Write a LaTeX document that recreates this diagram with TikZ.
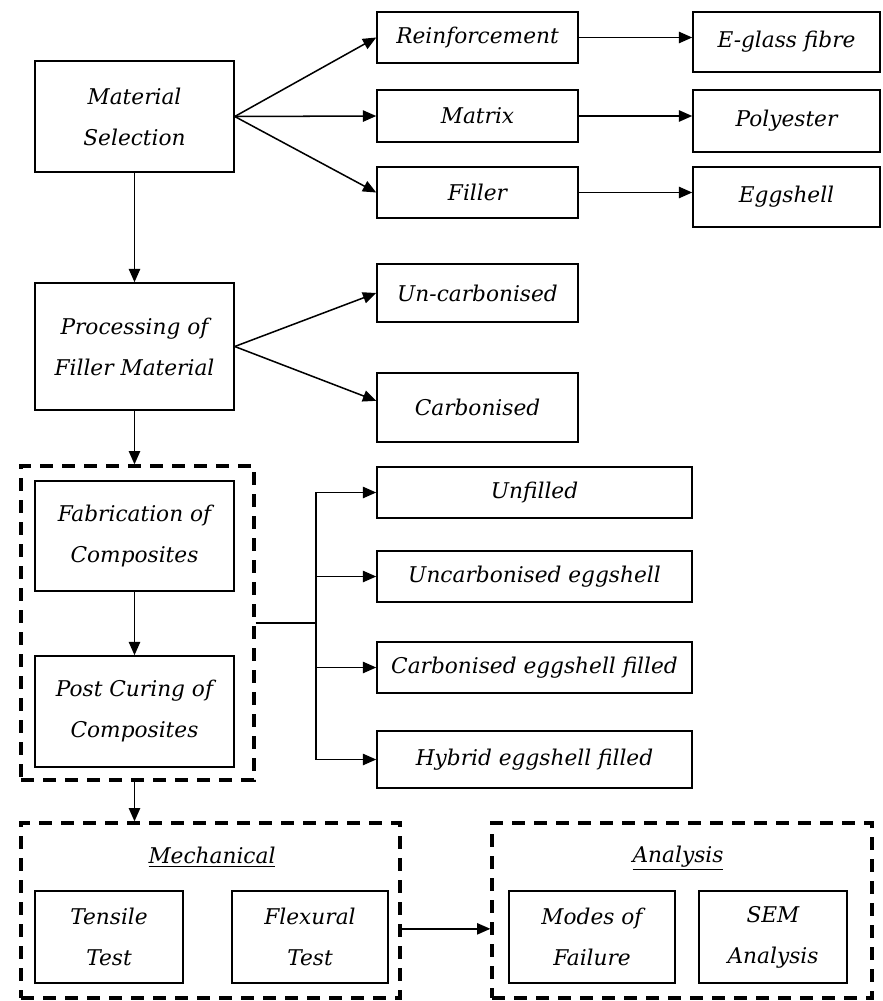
\documentclass[tikz,border=0pt]{standalone}
\usepackage{fontspec}
\setmainfont{DejaVu Serif}
\usepackage{tikz}
\usetikzlibrary{arrows.meta}

\begin{document}
\begin{tikzpicture}[x=0.03cm,y=-0.03cm,box/.style={shape=rectangle,draw=black,line width=1.3pt,font=\fontsize{18.5}{35}\selectfont\itshape,align=center,inner sep=0pt},grp/.style={shape=rectangle,draw=black,line width=2.8pt,dash pattern=on 0.39cm off 0.27cm,inner sep=0pt},lbl/.style={font=\fontsize{18.5}{35}\selectfont\itshape,inner sep=0pt},arr/.style={line width=1.3pt,-{Triangle[length=0.4cm,width=0.34cm]}}]
\def\pxl{0.03cm};
\useasboundingbox (0,0) rectangle (882,1001);

\node[box,minimum width=199*\pxl,minimum height=111*\pxl] (matsel) at (134.5,116.5) {Material\\Selection};
\node[box,minimum width=201*\pxl,minimum height=51*\pxl] (reinf) at (477.5,37.5) {Reinforcement};
\node[box,minimum width=201*\pxl,minimum height=52*\pxl] (matrix) at (477.5,116) {Matrix};
\node[box,minimum width=201*\pxl,minimum height=51*\pxl] (filler) at (477.5,192.5) {Filler};
\node[box,minimum width=187*\pxl,minimum height=60*\pxl] (eglass) at (786.5,42) {E-glass fibre};
\node[box,minimum width=187*\pxl,minimum height=62*\pxl] (polyest) at (786.5,121) {Polyester};
\node[box,minimum width=187*\pxl,minimum height=60*\pxl] (eggsh) at (786.5,197) {Eggshell};
\draw[arr] (matsel.east) -- (reinf.west);
\draw[arr] (matsel.east) -- (matrix.west);
\draw[arr] (matsel.east) -- (filler.west);
\draw[arr] (reinf.east) -- (reinf.east -| eglass.west);
\draw[arr] (matrix.east) -- (matrix.east -| polyest.west);
\draw[arr] (filler.east) -- (filler.east -| eggsh.west);

\node[box,minimum width=199*\pxl,minimum height=127*\pxl] (procfill) at (134.5,346.5) {Processing of\\Filler Material};
\node[box,minimum width=201*\pxl,minimum height=58*\pxl] (uncarb) at (477.5,293) {Un-carbonised};
\node[box,minimum width=201*\pxl,minimum height=69*\pxl] (carb) at (477.5,407.5) {Carbonised};
\draw[arr] (matsel.south) -- (procfill.north);
\draw[arr] (procfill.east) -- (uncarb.west);
\draw[arr] (procfill.east) -- ([yshift=0.2cm]carb.west);

\node[grp,minimum width=233*\pxl,minimum height=314*\pxl] (fabgrp) at (137.5,623) {};
\node[box,minimum width=199*\pxl,minimum height=110*\pxl] (fab) at (134.5,536) {Fabrication of\\Composites};
\node[box,minimum width=199*\pxl,minimum height=111*\pxl] (postcur) at (134.5,711.5) {Post Curing of\\Composites};
\draw[arr] (procfill.south) -- (procfill.south |- fabgrp.north);
\draw[arr] (fab.south) -- (postcur.north);

\node[box,minimum width=315*\pxl,minimum height=51*\pxl] (unfilled) at (534.5,492.5) {Unfilled};
\node[box,minimum width=315*\pxl,minimum height=51*\pxl] (uncegg) at (534.5,576.5) {Uncarbonised eggshell};
\node[box,minimum width=315*\pxl,minimum height=51*\pxl] (carbegg) at (534.5,667.5) {Carbonised eggshell filled};
\node[box,minimum width=315*\pxl,minimum height=57*\pxl] (hybrid) at (534.5,759.5) {Hybrid eggshell filled};
\coordinate (split) at (316,623);
\draw[line width=1.8pt] (fabgrp.east) -- (split);
\foreach \n in {unfilled,uncegg,carbegg,hybrid}
  \draw[arr] (split) |- (\n.west);

\node[grp,minimum width=379*\pxl,minimum height=175*\pxl] (mechgrp) at (210.5,910.5) {};
\node[lbl] (mechlbl) at (212,857) {\underline{Mechanical}};
\node[box,minimum width=148*\pxl,minimum height=92*\pxl] (tensile) at (109,937) {Tensile\\Test};
\node[box,minimum width=156*\pxl,minimum height=92*\pxl] (flex) at (310,937) {Flexural\\Test};
\draw[arr] (postcur.south |- fabgrp.south) -- (postcur.south |- mechgrp.north);

\node[grp,minimum width=380*\pxl,minimum height=175*\pxl] (anagrp) at (682,910.5) {};
\node[lbl] (analbl) at (678,858) {\underline{Analysis}};
\node[box,minimum width=166*\pxl,minimum height=92*\pxl] (modes) at (592,937) {Modes of\\Failure};
\node[box,minimum width=148*\pxl,minimum height=92*\pxl] (sem) at (773,937) {SEM\\Analysis};
\draw[arr] ([yshift=-0.55cm]mechgrp.east) -- ([yshift=-0.55cm]anagrp.west);
\end{tikzpicture}
\end{document}
